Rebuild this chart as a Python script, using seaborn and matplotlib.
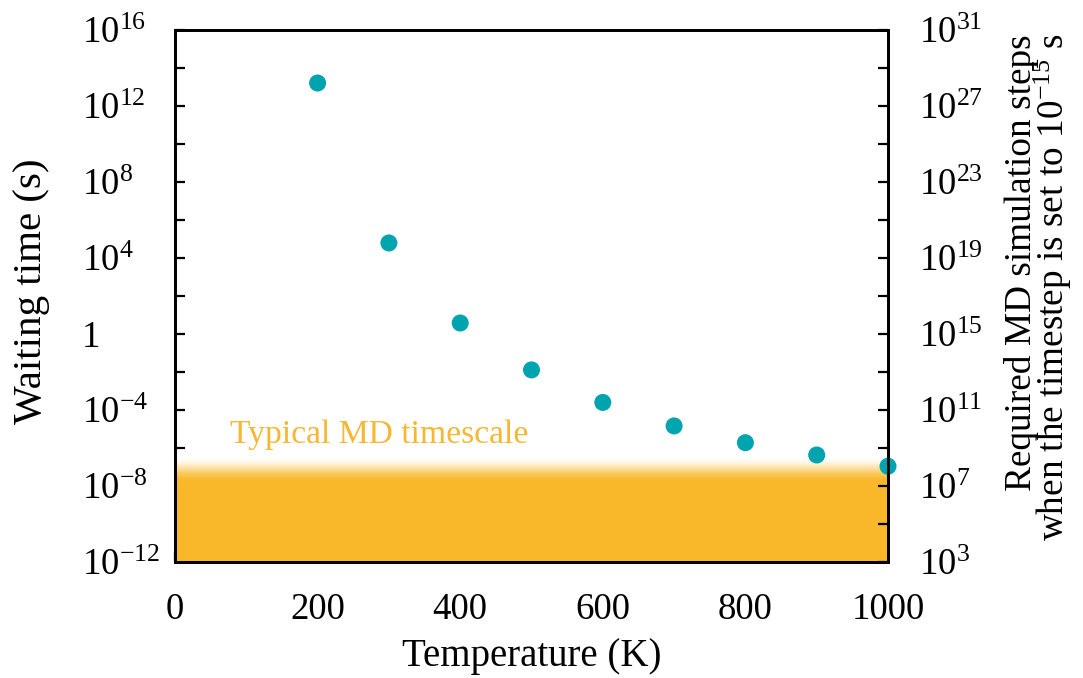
import numpy as np
import pandas as pd
import matplotlib
matplotlib.use("Agg")
import matplotlib.pyplot as plt
import seaborn as sns
from matplotlib.ticker import FixedLocator, FuncFormatter, NullFormatter

# ---- data ----
temperature = [200, 300, 400, 500, 600, 700, 800, 900, 1000]
waiting_time = [1.62e13, 6.2e4, 3.8, 1.29e-2, 2.5e-4, 1.45e-5, 1.9e-6, 4.3e-7, 1.1e-7]
md_solid_top = 1.7e-8      # orange band fully opaque below this
md_fade_top = 3.5e-7       # band fades to white up to this
timestep = 1e-15
left_exponents = [-12, -8, -4, 0, 4, 8, 12, 16]
left_minor_exponents = [-10, -6, -2, 2, 6, 10, 14]
right_exponents = [3, 7, 11, 15, 19, 23, 27, 31]
right_minor_exponents = [5, 9, 13, 17, 21, 25, 29]
x_ticks = [0, 200, 400, 600, 800, 1000]
band_label = "Typical MD timescale"

teal = "#00A4AF"
orange = np.array([0.976, 0.722, 0.165])
text_orange = "#F7B733"

sns.set_style("ticks")
plt.rcParams["font.family"] = ["Liberation Serif", "DejaVu Serif"]
plt.rcParams["mathtext.fontset"] = "custom"
plt.rcParams["mathtext.rm"] = "Liberation Serif"
plt.rcParams["mathtext.it"] = "Liberation Serif:italic"
plt.rcParams["axes.unicode_minus"] = True
for key in ["text.color", "axes.labelcolor", "xtick.color", "ytick.color",
            "axes.edgecolor", "xtick.labelcolor", "ytick.labelcolor"]:
    plt.rcParams[key] = "black"

df = pd.DataFrame({"Temperature": temperature, "Waiting": waiting_time})

fig = plt.figure(figsize=(10.83, 6.78), dpi=100)
ax = fig.add_axes([175 / 1083, 1 - 562 / 678, (888 - 175) / 1083, (562 - 30) / 678])
ax.set_yscale("log")
ax.set_xlim(0, 1000)
ax.set_ylim(1e-12, 1e16)

# orange band with gradient fade
ax.fill_between([0, 1000], 1e-12, md_solid_top, color=orange, linewidth=0, zorder=1)
n = 80
edges = np.logspace(np.log10(md_solid_top), np.log10(md_fade_top), n + 1)
for i in range(n):
    t = (i + 0.5) / n
    w = 1 - t
    w = w * w * (3 - 2 * w)
    col = orange * w + np.ones(3) * (1 - w)
    ax.fill_between([0, 1000], edges[i], edges[i + 1] * 1.0001, color=col,
                    linewidth=0, antialiased=False, zorder=1)

ax.text(77, 10**-5.3, band_label, color=text_orange, fontsize=24.2,
        ha="left", va="center", zorder=2)

sns.scatterplot(data=df, x="Temperature", y="Waiting", ax=ax, color=teal,
                s=150, edgecolor="none", zorder=5, clip_on=False, legend=False)


def left_fmt(v, pos):
    e = int(round(np.log10(v)))
    if e == 0:
        return "1"
    return r"$\mathregular{10^{%d}}$" % e


def right_fmt(v, pos):
    e = int(round(np.log10(v)))
    return r"$\mathregular{10^{%d}}$" % e


ax.yaxis.set_major_locator(FixedLocator([10.0**e for e in left_exponents]))
ax.yaxis.set_minor_locator(FixedLocator([10.0**e for e in left_minor_exponents]))
ax.yaxis.set_major_formatter(FuncFormatter(left_fmt))
ax.yaxis.set_minor_formatter(NullFormatter())
ax.set_xticks(x_ticks)
ax.set_xticklabels([str(v) for v in x_ticks])

ax.tick_params(axis="both", which="both", direction="in", length=7, width=1.6,
               labelsize=26.5, colors="black")
ax.tick_params(axis="y", which="major", pad=67)
for lab in ax.get_yticklabels():
    lab.set_horizontalalignment("left")
ax.tick_params(axis="x", which="major", pad=22)
ax.tick_params(axis="x", which="minor", bottom=False)

for sp in ax.spines.values():
    sp.set_linewidth(2.0)
    sp.set_color("black")

ax.set_xlabel("Temperature (K)", fontsize=28, labelpad=8)
ax.set_ylabel("Waiting time (s)", fontsize=29.5)
ax.yaxis.set_label_coords(-0.175, 0.508)

ax2 = ax.twinx()
ax2.set_yscale("log")
ax2.set_ylim(1e-12 / timestep, 1e16 / timestep)
ax2.yaxis.set_major_locator(FixedLocator([10.0**e for e in right_exponents]))
ax2.yaxis.set_minor_locator(FixedLocator([10.0**e for e in right_minor_exponents]))
ax2.yaxis.set_major_formatter(FuncFormatter(right_fmt))
ax2.yaxis.set_minor_formatter(NullFormatter())
ax2.tick_params(axis="y", which="both", direction="in", length=7, width=1.6,
                labelsize=26.5, pad=22, colors="black")
for sp in ax2.spines.values():
    sp.set_linewidth(2.0)
    sp.set_color("black")
ax2.set_ylabel("Required MD simulation steps\nwhen the timestep is set to 10$^{\\mathregular{-15}}$ s",
               fontsize=26.8, linespacing=0.8, multialignment="right")
ax2.yaxis.set_label_coords(1.162, 0.516)

fig.savefig("out.png", dpi=100)
